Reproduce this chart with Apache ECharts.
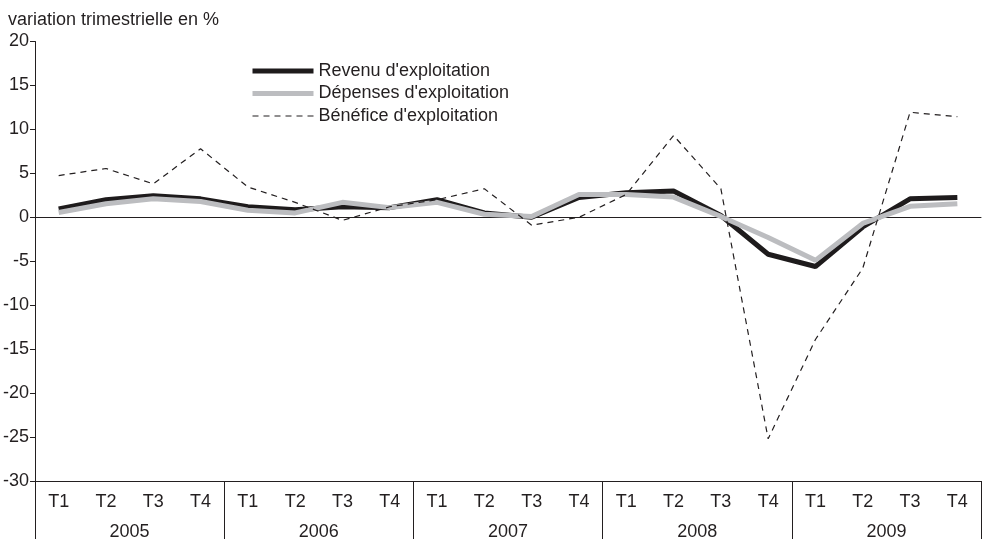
<!DOCTYPE html>
<html>
<head>
<meta charset="utf-8">
<script src="https://cdn.jsdelivr.net/npm/echarts@6/dist/echarts.min.js"></script>
<style>
  html, body { margin: 0; padding: 0; background: #fff; }
  #chart { width: 987px; height: 541px; }
</style>
</head>
<body>
<div id="chart"></div>
<script>
const years = ['2005', '2006', '2007', '2008', '2009']
const quarters = ['T1', 'T2', 'T3', 'T4']
const categories = years.flatMap(y => quarters.map(q => q + ' ' + y))

const revenu = [0.95, 2.0, 2.45, 2.1, 1.2, 0.85, 1.2, 1.1, 2.0, 0.5, 0.0, 2.25, 2.8, 3.0, 0.2, -4.2, -5.6, -1.1, 2.1, 2.25]
const depenses = [0.55, 1.55, 2.1, 1.8, 0.8, 0.5, 1.7, 1.1, 1.7, 0.35, 0.1, 2.6, 2.6, 2.3, 0.1, -2.3, -4.9, -0.7, 1.25, 1.55]
const benefice = [4.75, 5.55, 3.8, 7.8, 3.45, 1.7, -0.35, 1.2, 2.0, 3.25, -0.9, 0.0, 2.6, 9.3, 3.25, -25.2, -13.9, -5.8, 11.95, 11.45]

const font = 'Liberation Sans, Arial, sans-serif'
const ink = '#231f20'
const black = '#1e1b1c'
const grey = '#bcbdc0'

const chart = echarts.init(document.getElementById('chart'))

chart.setOption({
  animation: false,
  textStyle: { fontFamily: font, color: ink },
  title: {
    text: 'variation trimestrielle en %',
    left: 3, top: 6,
    textStyle: { fontFamily: font, fontSize: 18, fontWeight: 'normal', color: ink }
  },
  legend: {
    orient: 'vertical',
    left: 250, top: 62, padding: 0,
    itemWidth: 61, itemHeight: 14, itemGap: 4.5,
    itemStyle: { opacity: 0 },
    textStyle: { fontFamily: font, fontSize: 18, color: ink, lineHeight: 18 },
    data: [
      { name: "Revenu d'exploitation", lineStyle: { width: 5, color: black } },
      { name: "Dépenses d'exploitation", lineStyle: { width: 5, color: grey } },
      { name: "Bénéfice d'exploitation", lineStyle: { width: 1.2, color: ink, type: [6, 5] } }
    ]
  },
  grid: { left: 33, right: 6, top: 41.5, bottom: 58, containLabel: false },
  xAxis: [
    {
      type: 'category', data: categories, position: 'bottom', boundaryGap: true,
      axisLine: { onZero: false, lineStyle: { color: ink, width: 1 } },
      axisTick: { inside: true, length: 5, alignWithLabel: true, interval: 0, lineStyle: { color: ink } },
      axisLabel: {
        interval: 0, margin: 12, fontSize: 18, color: ink, fontFamily: font,
        formatter: v => v.split(' ')[0]
      }
    },
    {
      type: 'category', data: years, position: 'bottom', boundaryGap: true,
      axisLine: { show: false, onZero: false },
      axisTick: { show: true, length: 58, interval: 0, lineStyle: { color: ink } },
      axisLabel: { interval: 0, margin: 42, fontSize: 18, color: ink, fontFamily: font }
    },
    {
      type: 'category', data: categories, position: 'bottom', boundaryGap: true,
      axisLine: { onZero: true, lineStyle: { color: ink, width: 1 } },
      axisTick: { inside: true, length: 5, alignWithLabel: true, interval: 0, lineStyle: { color: ink } },
      axisLabel: { show: false }
    }
  ],
  yAxis: {
    type: 'value', min: -30, max: 20, interval: 5,
    splitLine: { show: false },
    axisLine: { show: true, lineStyle: { color: ink, width: 1 } },
    axisTick: { show: true, length: 5, lineStyle: { color: ink } },
    axisLabel: { margin: 6, fontSize: 18, color: ink, fontFamily: font }
  },
  series: [
    {
      name: "Revenu d'exploitation", type: 'line', data: revenu, symbol: 'none',
      lineStyle: { color: black, width: 5 }, itemStyle: { color: black }, z: 2
    },
    {
      name: "Dépenses d'exploitation", type: 'line', data: depenses, symbol: 'none',
      lineStyle: { color: grey, width: 5 }, itemStyle: { color: grey }, z: 3
    },
    {
      name: "Bénéfice d'exploitation", type: 'line', data: benefice, symbol: 'none',
      lineStyle: { color: ink, width: 1.2, type: [6, 5] }, itemStyle: { color: ink }, z: 4
    }
  ]
})
</script>
</body>
</html>
